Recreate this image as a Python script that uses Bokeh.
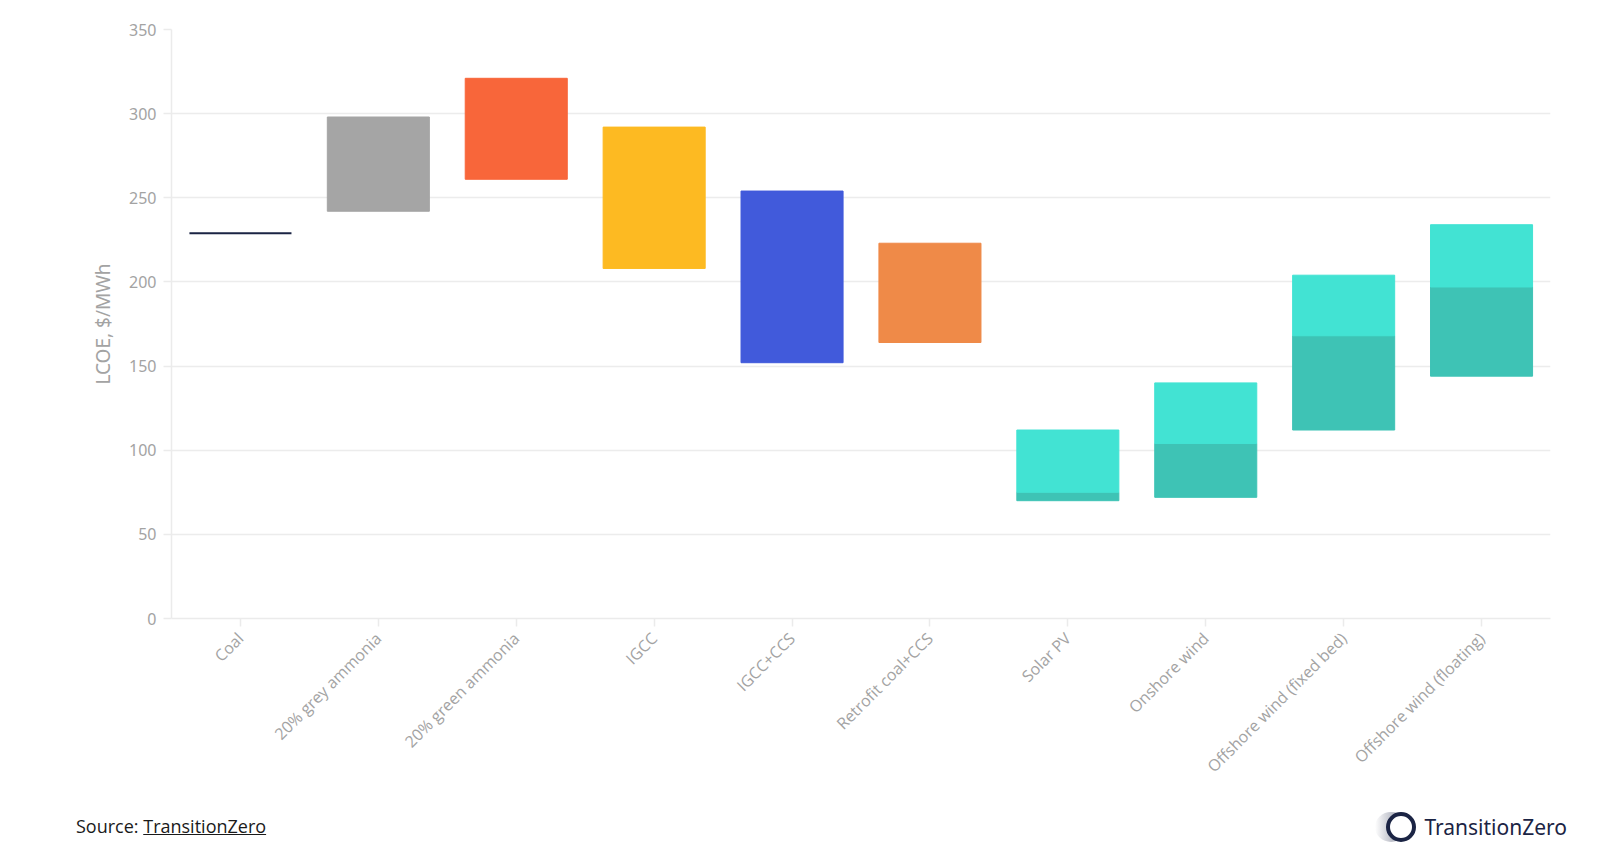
from bokeh.plotting import figure
from bokeh.models import Div, SingleIntervalTicker, ColumnDataSource, Range1d
from bokeh.layouts import column
from bokeh.embed import file_html
from bokeh.resources import INLINE
import math

categories = ["Coal", "20% grey ammonia", "20% green ammonia", "IGCC", "IGCC+CCS",
              "Retrofit coal+CCS", "Solar PV", "Onshore wind", "Offshore wind (fixed bed)",
              "Offshore wind (floating)"]

# conventional technologies: single range bars
conv_cats = ["20% grey ammonia", "20% green ammonia", "IGCC", "IGCC+CCS", "Retrofit coal+CCS"]
conv_low = [242, 261, 208, 152, 164]
conv_high = [298, 321, 292, 254, 223]
conv_colors = ["#a5a5a5", "#f8663a", "#fdba22", "#415adb", "#ef8a48"]

coal_value = [229]

# renewables: low -> mid (dark), mid -> high (light)
ren_cats = ["Solar PV", "Onshore wind", "Offshore wind (fixed bed)", "Offshore wind (floating)"]
ren_low = [70, 72, 112, 144]
ren_mid = [75, 104, 168, 197]
ren_high = [112, 140, 204, 234]

y_ticks_interval = 50

p = figure(x_range=categories, y_range=Range1d(0, 350), width=1590, height=790,
           output_backend="svg", toolbar_location=None,
           min_border_left=171, min_border_right=40, min_border_top=29, min_border_bottom=172)
p.outline_line_color = None
p.background_fill_color = "white"
p.border_fill_color = "white"

W = 0.74
conv_src = ColumnDataSource(dict(x=conv_cats, bottom=conv_low, top=conv_high, color=conv_colors))
p.vbar(x="x", bottom="bottom", top="top", width=W, fill_color="color", line_color="color",
       line_width=1, source=conv_src)

p.vbar(x=["Coal"], bottom=coal_value, top=coal_value, width=W, fill_color=None,
       line_color="#1b2444", line_width=2)

ren_src = ColumnDataSource(dict(x=ren_cats, low=ren_low, mid=ren_mid, high=ren_high))
p.vbar(x="x", bottom="low", top="mid", width=W, fill_color="#3ec3b5", line_color="#3ec3b5",
       line_width=1, source=ren_src)
p.vbar(x="x", bottom="mid", top="high", width=W, fill_color="#42e3d3", line_color="#42e3d3",
       line_width=1, source=ren_src)

p.yaxis.ticker = SingleIntervalTicker(interval=y_ticks_interval)
p.yaxis.axis_label = "LCOE, $/MWh"
p.yaxis.axis_label_text_font = "Noto Sans"
p.yaxis.axis_label_text_font_style = "normal"
p.yaxis.axis_label_text_font_size = "19px"
p.yaxis.axis_label_text_color = "#a3a3a3"
p.yaxis.axis_label_standoff = 10
for ax in (p.xaxis, p.yaxis):
    ax.axis_line_color = "#ebebeb"
    ax.axis_line_width = 1.5
    ax.major_tick_line_color = "#ebebeb"
    ax.major_tick_line_width = 1.5
    ax.minor_tick_line_color = None
    ax.major_tick_out = 8
    ax.major_tick_in = 0
    ax.major_label_text_color = "#a3a3a3"
    ax.major_label_text_font_size = "16px"
p.yaxis.major_label_text_font = "Noto Sans"
p.xaxis.major_label_text_font = "Open Sans"
p.yaxis.major_label_standoff = 7
p.xaxis.major_label_orientation = math.pi / 4
p.xaxis.major_label_standoff = 9
p.xgrid.grid_line_color = None
p.ygrid.grid_line_color = "#ececec"
p.ygrid.grid_line_width = 1.5

footer = Div(width=1590, height=64, text="""
<div style="display:flex; justify-content:space-between; align-items:center; width:1590px; height:64px; font-family:'Open Sans'; color:#1a1a1a;">
  <div style="margin-left:71px; font-size:18px;">Source: <a href="#" style="color:#1a1a1a; text-decoration:underline;">TransitionZero</a></div>
  <div style="display:flex; align-items:center; margin-right:28px;">
    <svg width="50" height="40" viewBox="0 0 50 40">
      <defs>
        <linearGradient id="fz" x1="0" y1="0" x2="1" y2="0">
          <stop offset="0" stop-color="#1b2444" stop-opacity="0"/>
          <stop offset="1" stop-color="#1b2444" stop-opacity="0.55"/>
        </linearGradient>
      </defs>
      <ellipse cx="20" cy="20" rx="16" ry="15" fill="url(#fz)"/>
      <circle cx="30" cy="20" r="13" fill="white" stroke="#1b2444" stroke-width="4"/>
    </svg>
    <span style="font-family:'Noto Sans'; font-size:21px; color:#1b2444; margin-left:3px;">TransitionZero</span>
  </div>
</div>
""")

layout = column(p, footer, spacing=0)
open("out.html", "w").write(file_html(layout, INLINE))
